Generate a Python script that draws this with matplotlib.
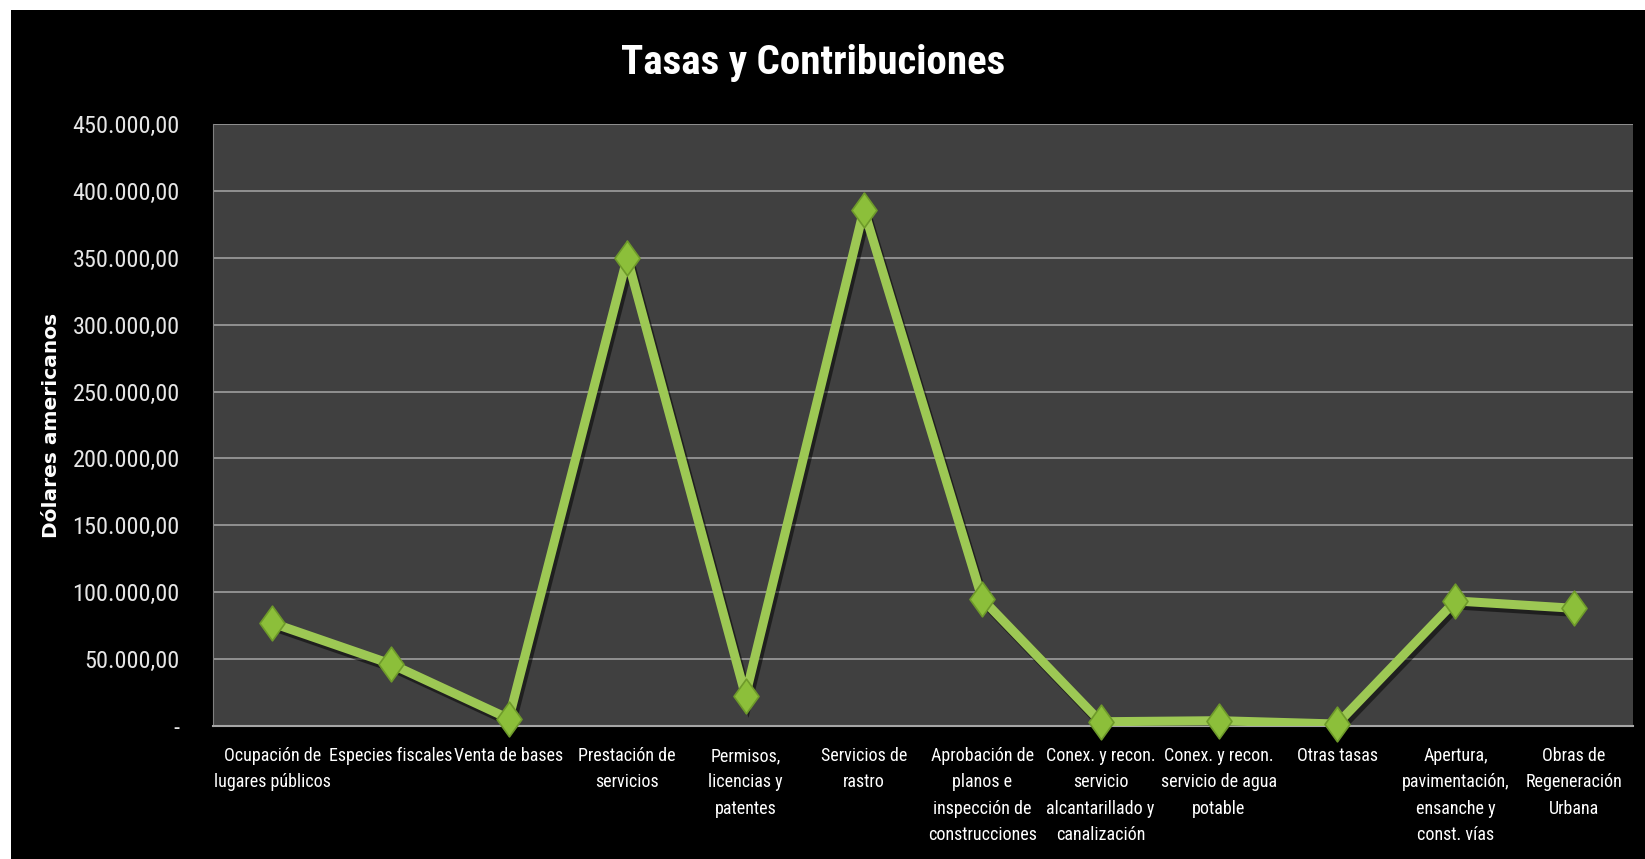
import matplotlib
matplotlib.use("Agg")
import matplotlib.pyplot as plt
import matplotlib.patheffects as pe
from matplotlib.ticker import FuncFormatter, MultipleLocator
from matplotlib.patches import Rectangle
from matplotlib.path import Path
from matplotlib import font_manager
from matplotlib.font_manager import FontProperties

# datos
categorias = [
    "Ocupación de\nlugares públicos",
    "Especies fiscales",
    "Venta de bases",
    "Prestación de\nservicios",
    "Permisos,\nlicencias y\npatentes",
    "Servicios de\nrastro",
    "Aprobación de\nplanos e\ninspección de\nconstrucciones",
    "Conex. y recon.\nservicio\nalcantarillado y\ncanalización",
    "Conex. y recon.\nservicio de agua\npotable",
    "Otras tasas",
    "Apertura,\npavimentación,\nensanche y\nconst. vías",
    "Obras de\nRegeneración\nUrbana",
]
valores = [77000, 46500, 5500, 350000, 22700, 386000, 95000, 3200, 4000, 1500, 93500, 88000]

titulo = "Tasas y Contribuciones"
etiqueta_y = "Dólares americanos"


def buscar_fuente(bold=False):
    """busca un archivo de fuente estrecha (tipo Calibri)"""
    archivos = [f.fname for f in font_manager.fontManager.ttflist]
    claves = ["LiberationSansNarrow", "RobotoCondensed", "OpenSansCondensed", "DejaVuSansCondensed"]
    for clave in claves:
        for a in archivos:
            nom = a.split("/")[-1].replace("-", "").replace("_", "")
            if clave.lower() in nom.lower():
                es_bold = "bold" in nom.lower()
                es_ital = "italic" in nom.lower() or "oblique" in nom.lower()
                if es_bold == bold and not es_ital and "light" not in nom.lower():
                    return a
    return None


f_reg = buscar_fuente(False)
f_bold = buscar_fuente(True)


def fp(size, bold=False):
    path = f_bold if bold else f_reg
    if path:
        return FontProperties(fname=path, size=size)
    return FontProperties(family="DejaVu Sans", size=size * 0.85, weight="bold" if bold else "normal")


# rombo un poco más alto que ancho
rombo = Path([(0, 1), (0.72, 0), (0, -1), (-0.72, 0), (0, 1)],
             [Path.MOVETO, Path.LINETO, Path.LINETO, Path.LINETO, Path.CLOSEPOLY])

fig = plt.figure(figsize=(16.45, 8.59), dpi=100)
fig.patch.set_facecolor("white")
# fondo negro del gráfico (deja un borde blanco fino arriba y a la izquierda)
fig.patches.append(Rectangle((0.0065, 0.0), 0.9935, 0.988, transform=fig.transFigure,
                             facecolor="black", edgecolor="none", zorder=-10))

ax = fig.add_axes([0.1295, 0.1548, 0.8632, 0.7009])
ax.set_facecolor("#404040")

x = list(range(len(categorias)))
ax.plot(x, valores, color="#9DC854", linewidth=6.5, solid_joinstyle="miter", zorder=3,
        path_effects=[pe.SimpleLineShadow(offset=(2, -3), alpha=0.5, shadow_color="black"), pe.Normal()])
ax.plot(x, valores, linestyle="none", marker=rombo, markersize=25, markerfacecolor="#8CBF3A",
        markeredgecolor="#6E9A2A", markeredgewidth=1.2, zorder=4, clip_on=False)

ax.set_xlim(-0.5, len(categorias) - 0.5)
ax.set_ylim(0, 450000)
ax.yaxis.set_major_locator(MultipleLocator(50000))


def fmt(v, pos):
    if v == 0:
        return "-"
    s = f"{v:,.2f}"
    return s.replace(",", "X").replace(".", ",").replace("X", ".")


ax.yaxis.set_major_formatter(FuncFormatter(fmt))
ax.grid(axis="y", color="#A6A6A6", linewidth=1.1)
ax.set_axisbelow(True)

ax.set_xticks(x)
ax.set_xticklabels(categorias, color="white", linespacing=1.6, va="top")
for lab in ax.get_xticklabels():
    lab.set_fontproperties(fp(13))
ax.tick_params(axis="y", colors="#E6E6E6", length=0, pad=24)
for lab in ax.get_yticklabels():
    lab.set_fontproperties(fp(17.5))
ax.tick_params(axis="x", length=0, pad=15)

for s in ["top", "right"]:
    ax.spines[s].set_visible(False)
ax.spines["left"].set_color("#808080")
ax.spines["bottom"].set_color("#A6A6A6")
ax.spines["bottom"].set_linewidth(1.5)

ax.set_ylabel(etiqueta_y, fontsize=14.5, fontweight="bold", color="white", family="DejaVu Sans")
ax.yaxis.set_label_coords(-0.107, 0.5)

fig.text(0.4945, 0.927, titulo, ha="center", va="center", color="white", fontproperties=fp(29.5, bold=True))

plt.savefig("out.png", dpi=100, facecolor=fig.get_facecolor())
plt.close()
